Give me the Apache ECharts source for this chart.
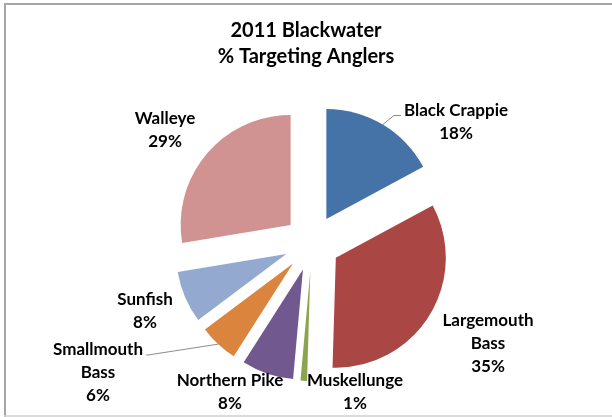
<!DOCTYPE html>
<html>
<head>
<meta charset="utf-8">
<script src="https://cdn.jsdelivr.net/npm/echarts@6/dist/echarts.min.js"></script>
<style>
html,body{margin:0;padding:0;background:#fff;}
#c{width:612px;height:417px;}
</style>
</head>
<body>
<div id="c"></div>
<script>
var categories = ['Black Crappie', 'Largemouth Bass', 'Muskellunge', 'Northern Pike', 'Smallmouth Bass', 'Sunfish', 'Walleye'];
var labelNames = ['Black Crappie', 'Largemouth\nBass', 'Muskellunge', 'Northern Pike', 'Smallmouth\nBass', 'Sunfish', 'Walleye'];
var values = [18, 35, 1, 8, 6, 8, 29];
var colors = ['#4572A7', '#AA4643', '#89A54E', '#71588F', '#DB843D', '#93A9CF', '#D19392'];
var showLeader = [true, false, false, false, true, false, false];
var labelSpots = [[456, 122], [488, 344], [355, 392], [230, 392], [98, 373], [145, 311], [165, 130]];

var chart = echarts.init(document.getElementById('c'), null, {renderer: 'canvas'});
var FONT = 'Lato, "Liberation Sans", Arial, sans-serif';
var R = 110, EXPLODE = 28, LH = 23;

var sliceData = categories.map(function (c, i) {
  return {name: c, value: values[i], selected: true, itemStyle: {color: colors[i]}};
});
var labelData = categories.map(function (c, i) {
  return {name: c, value: values[i], labelLine: {show: showLeader[i]}};
});

chart.setOption({
  animation: false,
  title: {
    text: '2011 Blackwater\n% Targeting Anglers',
    left: 'center',
    top: 13,
    textStyle: {fontFamily: FONT, fontWeight: 'bold', fontSize: 20, lineHeight: 26, color: '#000'}
  },
  graphic: [
    {type: 'line', shape: {x1: 4, y1: 4, x2: 612, y2: 4}, style: {stroke: '#a6a6a6', lineWidth: 2}, silent: true},
    {type: 'line', shape: {x1: 5, y1: 4, x2: 5, y2: 417}, style: {stroke: '#a6a6a6', lineWidth: 2}, silent: true},
    {type: 'line', shape: {x1: 4, y1: 416, x2: 612, y2: 416}, style: {stroke: '#cfcfcf', lineWidth: 1.5}, silent: true}
  ],
  series: [{
    type: 'pie',
    center: [312, 243],
    radius: [0, R],
    startAngle: 90,
    clockwise: true,
    selectedMode: 'multiple',
    selectedOffset: EXPLODE,
    itemStyle: {borderWidth: 0},
    select: {itemStyle: {borderWidth: 0}},
    emphasis: {disabled: true},
    label: {show: false},
    labelLine: {show: false},
    data: sliceData
  }, {
    type: 'pie',
    center: [312, 243],
    radius: [0, R + EXPLODE],
    startAngle: 90,
    clockwise: true,
    silent: true,
    selectedMode: false,
    avoidLabelOverlap: false,
    itemStyle: {color: 'rgba(0,0,0,0)', borderWidth: 0},
    emphasis: {disabled: true},
    label: {
      show: true,
      position: 'outside',
      fontFamily: FONT,
      fontWeight: 'bold',
      fontSize: 17,
      lineHeight: LH,
      color: '#000',
      formatter: function (p) { return labelNames[p.dataIndex] + '\n' + p.value + '%'; }
    },
    labelLine: {length: 8, length2: 8, lineStyle: {color: '#8c8c8c', width: 1}},
    labelLayout: function (p) {
      var i = p.dataIndex;
      var s = labelSpots[i];
      var out = {x: s[0], y: s[1], align: 'center', verticalAlign: 'middle'};
      if (showLeader[i] && p.labelLinePoints) {
        var w = p.labelRect.width, h = p.labelRect.height;
        var anchor = p.labelLinePoints[0];
        var lineY = s[1] - h / 2 + LH / 2 + 5;
        var end, mid;
        if (anchor[0] < s[0]) {
          end = [s[0] - w / 2 - 3, lineY];
          mid = [end[0] - 7, end[1]];
        } else {
          end = [s[0] + w / 2 + 3, lineY];
          mid = [end[0] + 2, end[1]];
        }
        out.labelLinePoints = [anchor, mid, end];
      }
      return out;
    },
    data: labelData
  }]
});
</script>
</body>
</html>
